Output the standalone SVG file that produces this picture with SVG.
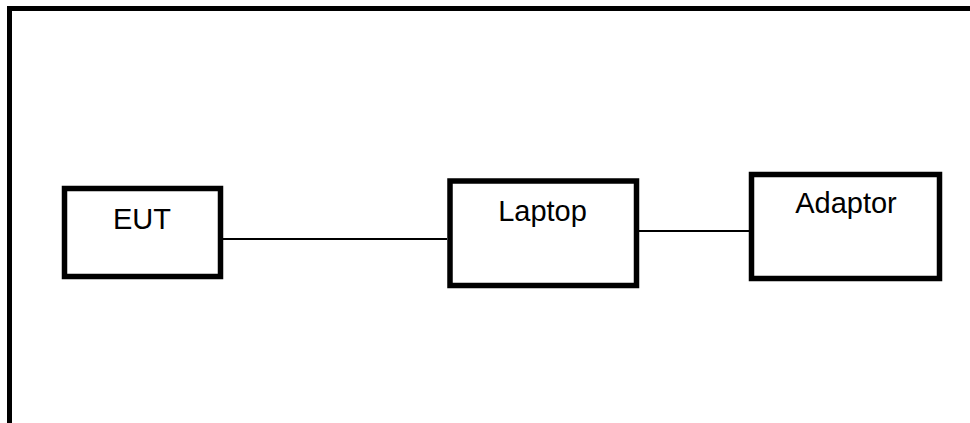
<svg xmlns="http://www.w3.org/2000/svg" width="970" height="423" viewBox="0 0 970 423">
<style>
.box{fill:#fff;stroke:#000;stroke-width:5.5}
.lbl{font-family:"Liberation Sans",Arial,sans-serif;font-size:29px;fill:#000;text-anchor:middle}
.conn{stroke:#000;stroke-width:1.8;fill:none}
</style>
<rect x="0" y="0" width="970" height="423" fill="#fff"/>
<rect x="9.5" y="8.5" width="990" height="440" fill="none" stroke="#000" stroke-width="5"/>
<g id="connectors">
<line class="conn" x1="223" y1="239" x2="447" y2="239"/>
<line class="conn" x1="639" y1="231" x2="749" y2="231"/>
</g>
<g id="eut">
<rect class="box" x="64.5" y="188.5" width="156" height="88"/>
<text class="lbl" x="142" y="229.3">EUT</text>
</g>
<g id="laptop">
<rect class="box" x="450" y="181" width="186.5" height="104.5"/>
<text class="lbl" x="542.5" y="221">Laptop</text>
</g>
<g id="adaptor">
<rect class="box" x="751.5" y="174.5" width="188" height="104"/>
<text class="lbl" x="846" y="213">Adaptor</text>
</g>
</svg>
